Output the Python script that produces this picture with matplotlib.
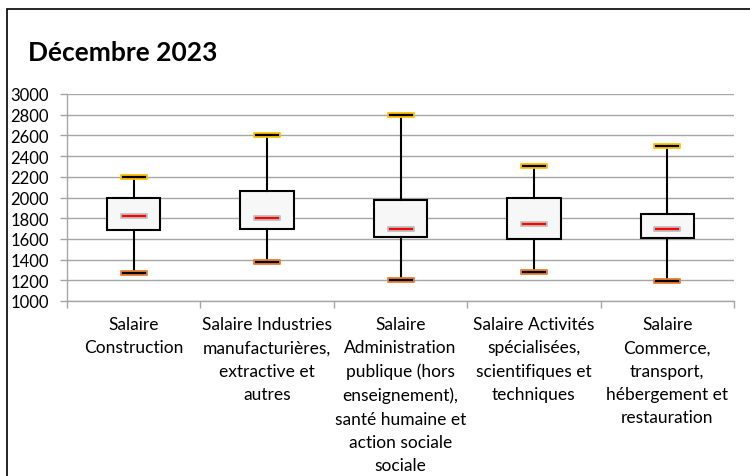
import matplotlib
matplotlib.use("Agg")
import matplotlib.pyplot as plt
from matplotlib.path import Path
from matplotlib.patches import Rectangle

plt.rcParams['font.family'] = ['Lato', 'DejaVu Sans']

# data
categories = [
    "Salaire\nConstruction",
    "Salaire Industries\nmanufacturières,\nextractive et\nautres",
    "Salaire\nAdministration\npublique (hors\nenseignement),\nsanté humaine et\naction sociale\nsociale",
    "Salaire Activités\nspécialisées,\nscientifiques et\ntechniques",
    "Salaire\nCommerce,\ntransport,\nhébergement et\nrestauration",
]
mins = [1275, 1375, 1200, 1280, 1195]
q1 = [1688, 1700, 1620, 1600, 1610]
medians = [1820, 1800, 1700, 1740, 1700]
q3 = [2000, 2060, 1980, 2000, 1845]
maxs = [2200, 2600, 2800, 2300, 2500]
yticks = list(range(1000, 3001, 200))

fig = plt.figure(figsize=(7.5, 4.77), dpi=100)
ax = fig.add_axes([67 / 750, 1 - 302 / 477, 667 / 750, 207 / 477])

# chart frame (runs off the right and bottom edges)
fig.patches.append(Rectangle((7 / 750, -0.05), 1.1, 1 - 10 / 477 + 0.05,
                             transform=fig.transFigure, fill=False,
                             edgecolor='black', linewidth=1.2, zorder=0))

fig.text(28 / 750, 1 - 53 / 477, "Décembre 2023", fontsize=19,
         fontweight='bold', va='center', ha='left')

pos = list(range(1, len(categories) + 1))
stats = []
for i in range(len(categories)):
    stats.append(dict(whislo=mins[i], q1=q1[i], med=medians[i], q3=q3[i],
                      whishi=maxs[i], fliers=[]))

ax.bxp(stats, positions=pos, widths=0.4, showcaps=False, patch_artist=True,
       boxprops=dict(facecolor='#f7f7f7', edgecolor='black', linewidth=1.5),
       whiskerprops=dict(color='black', linewidth=1.5),
       medianprops=dict(visible=False), zorder=3)

rect = Path([(-1, -0.18), (1, -0.18), (1, 0.18), (-1, 0.18), (-1, -0.18)],
            [Path.MOVETO, Path.LINETO, Path.LINETO, Path.LINETO, Path.CLOSEPOLY])
ax.plot(pos, maxs, linestyle='none', marker=rect, markersize=18.5,
        markerfacecolor='black', markeredgecolor='#FFC000', markeredgewidth=1.3, zorder=5)
ax.plot(pos, mins, linestyle='none', marker=rect, markersize=18.5,
        markerfacecolor='black', markeredgecolor='#ED7D31', markeredgewidth=1.3, zorder=5)
ax.plot(pos, medians, linestyle='none', marker=rect, markersize=18.5,
        markerfacecolor='#FF0000', markeredgecolor='#BFBFBF', markeredgewidth=1.3, zorder=5)

ax.set_xlim(0.5, len(categories) + 0.5)
ax.set_ylim(1000, 3000)
ax.set_yticks(yticks)
ax.set_yticklabels([str(v) for v in yticks], fontsize=12)
ax.set_xticks(pos)
ax.set_xticklabels(categories, fontsize=12.5, linespacing=1.55)
ax.tick_params(axis='x', length=0, pad=11)
ax.set_xticks([p + 0.5 for p in [0] + pos], minor=True)
ax.tick_params(axis='x', which='minor', length=5, color='#a6a6a6', width=1)
ax.tick_params(axis='y', length=5, color='#a6a6a6', width=1, pad=8)

ax.grid(axis='y', color='#a6a6a6', linewidth=1)
ax.set_axisbelow(True)
for side in ['top', 'right']:
    ax.spines[side].set_visible(False)
for side in ['left', 'bottom']:
    ax.spines[side].set_color('#a6a6a6')
    ax.spines[side].set_linewidth(1)

fig.savefig("out.png", dpi=100)
